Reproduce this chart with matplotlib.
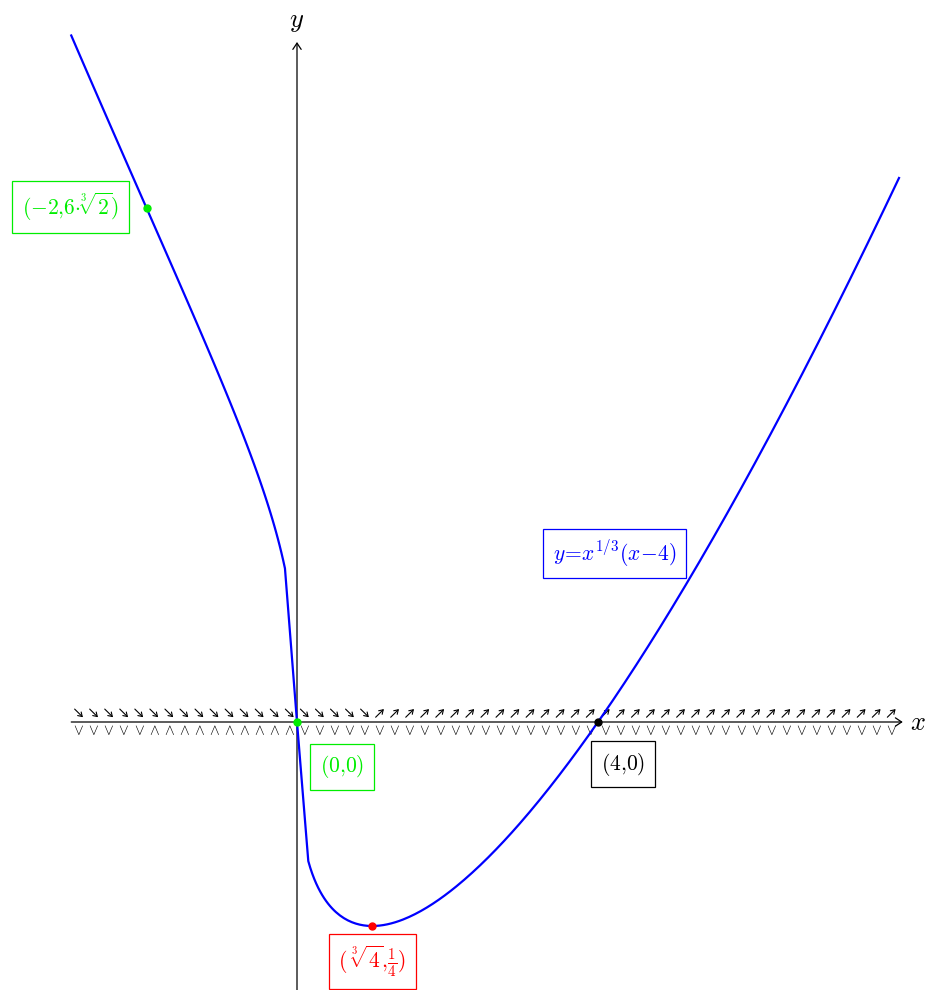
import numpy as np
import matplotlib
matplotlib.use("Agg")
import matplotlib.pyplot as plt

plt.rcParams['mathtext.fontset'] = 'cm'
plt.rcParams['font.family'] = 'DejaVu Serif'

# curve y = x^(1/3) (x-4); coarse step right next to the origin like the original
def f(x):
    return np.cbrt(x) * (x - 4)

xNeg = np.append(np.linspace(-3, -0.16, 120), 0)
xPos = np.append(0, np.linspace(0.15, 8, 300))

# marked points and their labels
pointX = [-2, 0, 4, 1]
pointY = [6 * np.cbrt(2), 0, 0, -3]
pointColor = ['#00ee00', '#00ee00', 'black', 'red']
labelText = [r'$(-2{,}6{\cdot}\sqrt[3]{2})$', r'$(0{,}0)$', r'$(4{,}0)$',
             r'$(\;\sqrt[3]{4}{,}\frac{1}{4})$']
labelPos = [(-3.01, 7.57), (0.6, -0.66), (4.33, -0.62), (1.0, -3.52)]
curveLabel = r'$y\!=\!x^{1/3}(x\!-\!4)$'
curveLabelPos = (4.22, 2.48)

# sign chart along the x axis
signX = np.arange(-2.9, 7.95, 0.2)
criticalX = 1          # f' changes sign
inflectionX = [-2, 0]  # f'' changes sign

fig = plt.figure(figsize=(9.25, 9.9), dpi=100)
ax = fig.add_axes([0, 0, 1, 1])
ax.set_xlim(-297 / 75.25, 628 / 75.25)
ax.set_ylim(-268 / 68.0, 722 / 68.0)
ax.axis('off')

# axes with arrows
arr = dict(arrowstyle='->,head_length=0.45,head_width=0.3', lw=0.9, color='black',
           shrinkA=0, shrinkB=0)
ax.annotate('', xy=(8.05, 0), xytext=(-3, 0), arrowprops=arr)
ax.annotate('', xy=(0, 10.0), xytext=(0, -4.2), arrowprops=arr)
ax.text(8.15, 0, r'$x$', fontsize=19, ha='left', va='center')
ax.text(0, 10.3, r'$y$', fontsize=19, ha='center', va='center')

# sign markers: small slope arrows above, concavity glyphs below
small = dict(arrowstyle='->,head_length=0.28,head_width=0.18', lw=0.8, color='black',
             shrinkA=0, shrinkB=0)
dx, dy = 0.055, 0.06
for sx in signX:
    if sx > criticalX:
        ax.annotate('', xy=(sx + dx, 0.13 + dy), xytext=(sx - dx, 0.13 - dy), arrowprops=small)
    else:
        ax.annotate('', xy=(sx + dx, 0.13 - dy), xytext=(sx - dx, 0.13 + dy), arrowprops=small)
    conc = r'$\wedge$' if inflectionX[0] < sx < inflectionX[1] else r'$\vee$'
    ax.text(sx, -0.13, conc, fontsize=10.5, ha='center', va='center', color='black')

ax.plot(xNeg, f(xNeg), color='blue', lw=1.6, zorder=3)
ax.plot(xPos, f(xPos), color='blue', lw=1.6, zorder=3)

for px, py, c in zip(pointX, pointY, pointColor):
    ax.plot(px, py, 'o', color=c, markersize=5, zorder=4)

for (lx, ly), t, c in zip(labelPos, labelText, pointColor):
    ax.text(lx, ly, t, fontsize=15.5, color=c, ha='center', va='center',
            bbox=dict(boxstyle='square,pad=0.45', fc='white', ec=c, lw=0.9))

ax.text(curveLabelPos[0], curveLabelPos[1], curveLabel, fontsize=15.5, color='blue',
        ha='center', va='center',
        bbox=dict(boxstyle='square,pad=0.45', fc='white', ec='blue', lw=0.9))

fig.savefig('out.png', dpi=100)
